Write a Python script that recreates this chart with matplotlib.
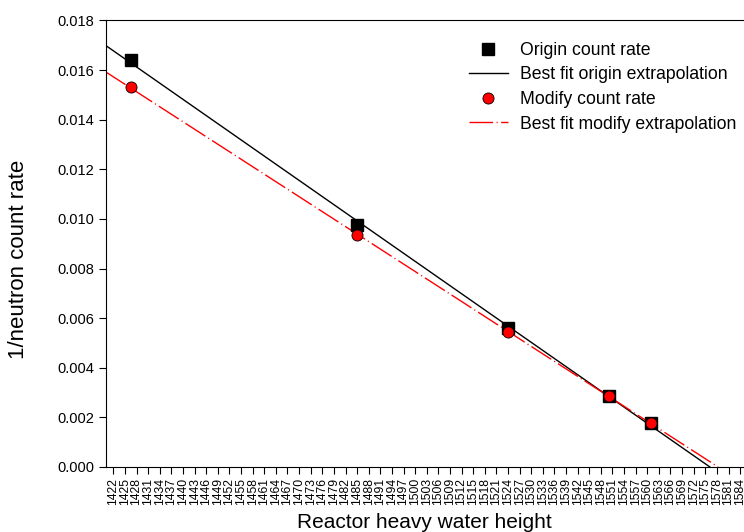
import matplotlib
matplotlib.use('Agg')
import matplotlib.pyplot as plt
import numpy as np

plt.rcParams['font.family'] = ['Liberation Sans', 'DejaVu Sans']

# data
height_origin = [1426.5, 1485, 1524, 1550, 1561]
rate_origin = [0.01640, 0.00975, 0.00562, 0.00286, 0.00176]
height_modify = [1426.5, 1485, 1524, 1550, 1561]
rate_modify = [0.01530, 0.00935, 0.00545, 0.00286, 0.00176]
x_ticks = list(range(1422, 1585, 3))
y_ticks = [0.000, 0.002, 0.004, 0.006, 0.008, 0.010, 0.012, 0.014, 0.016, 0.018]

fig = plt.figure(figsize=(7.44, 5.32), dpi=100)
ax = fig.add_axes([0.142, 0.1222, 0.858, 0.8393])

x_left = 1420

# linear fits, extended from the left edge down to zero
k1, b1 = np.polyfit(height_origin, rate_origin, 1)
k2, b2 = np.polyfit(height_modify, rate_modify, 1)
xs1 = np.array([x_left, -b1 / k1])
xs2 = np.array([x_left, -b2 / k2])

ax.plot(height_origin, rate_origin, 's', color='black', ms=8, zorder=3,
        label='Origin count rate')
ax.plot(xs1, k1 * xs1 + b1, '-', color='black', lw=1,
        label='Best fit origin extrapolation')
ax.plot(height_modify, rate_modify, 'o', color='red', mec='black', mew=0.6,
        ms=8, zorder=4, label='Modify count rate')
ax.plot(xs2, k2 * xs2 + b2, color='red', lw=1, dashes=(17, 2.5, 0.8, 2.5),
        label='Best fit modify extrapolation')

ax.set_xlim(x_left, 1585)
ax.set_ylim(0, 0.018)
ax.set_xticks(x_ticks)
ax.set_xticklabels([str(t) for t in x_ticks], rotation=90, fontsize=8.7)
ax.set_yticks(y_ticks)
ax.set_yticklabels([f'{t:.3f}' for t in y_ticks], fontsize=10.5)
ax.tick_params(direction='out', length=5, width=0.8, pad=3)
ax.spines['right'].set_visible(False)
for s in ['left', 'top', 'bottom']:
    ax.spines[s].set_linewidth(0.8)

ax.set_xlabel('Reactor heavy water height', fontsize=15)
ax.xaxis.set_label_coords(0.5, -0.125)
ax.xaxis.label.set_va('center')
ax.set_ylabel('1/neutron count rate', fontsize=16)
ax.yaxis.set_label_coords(-0.137, 0.465)
ax.yaxis.label.set_va('center')

ax.legend(loc='upper left', bbox_to_anchor=(0.569, 0.952), frameon=False,
          fontsize=12.7, handlelength=2.2, handletextpad=0.68, labelspacing=0.43,
          borderpad=0, borderaxespad=0)

fig.savefig('out.png', dpi=100)
